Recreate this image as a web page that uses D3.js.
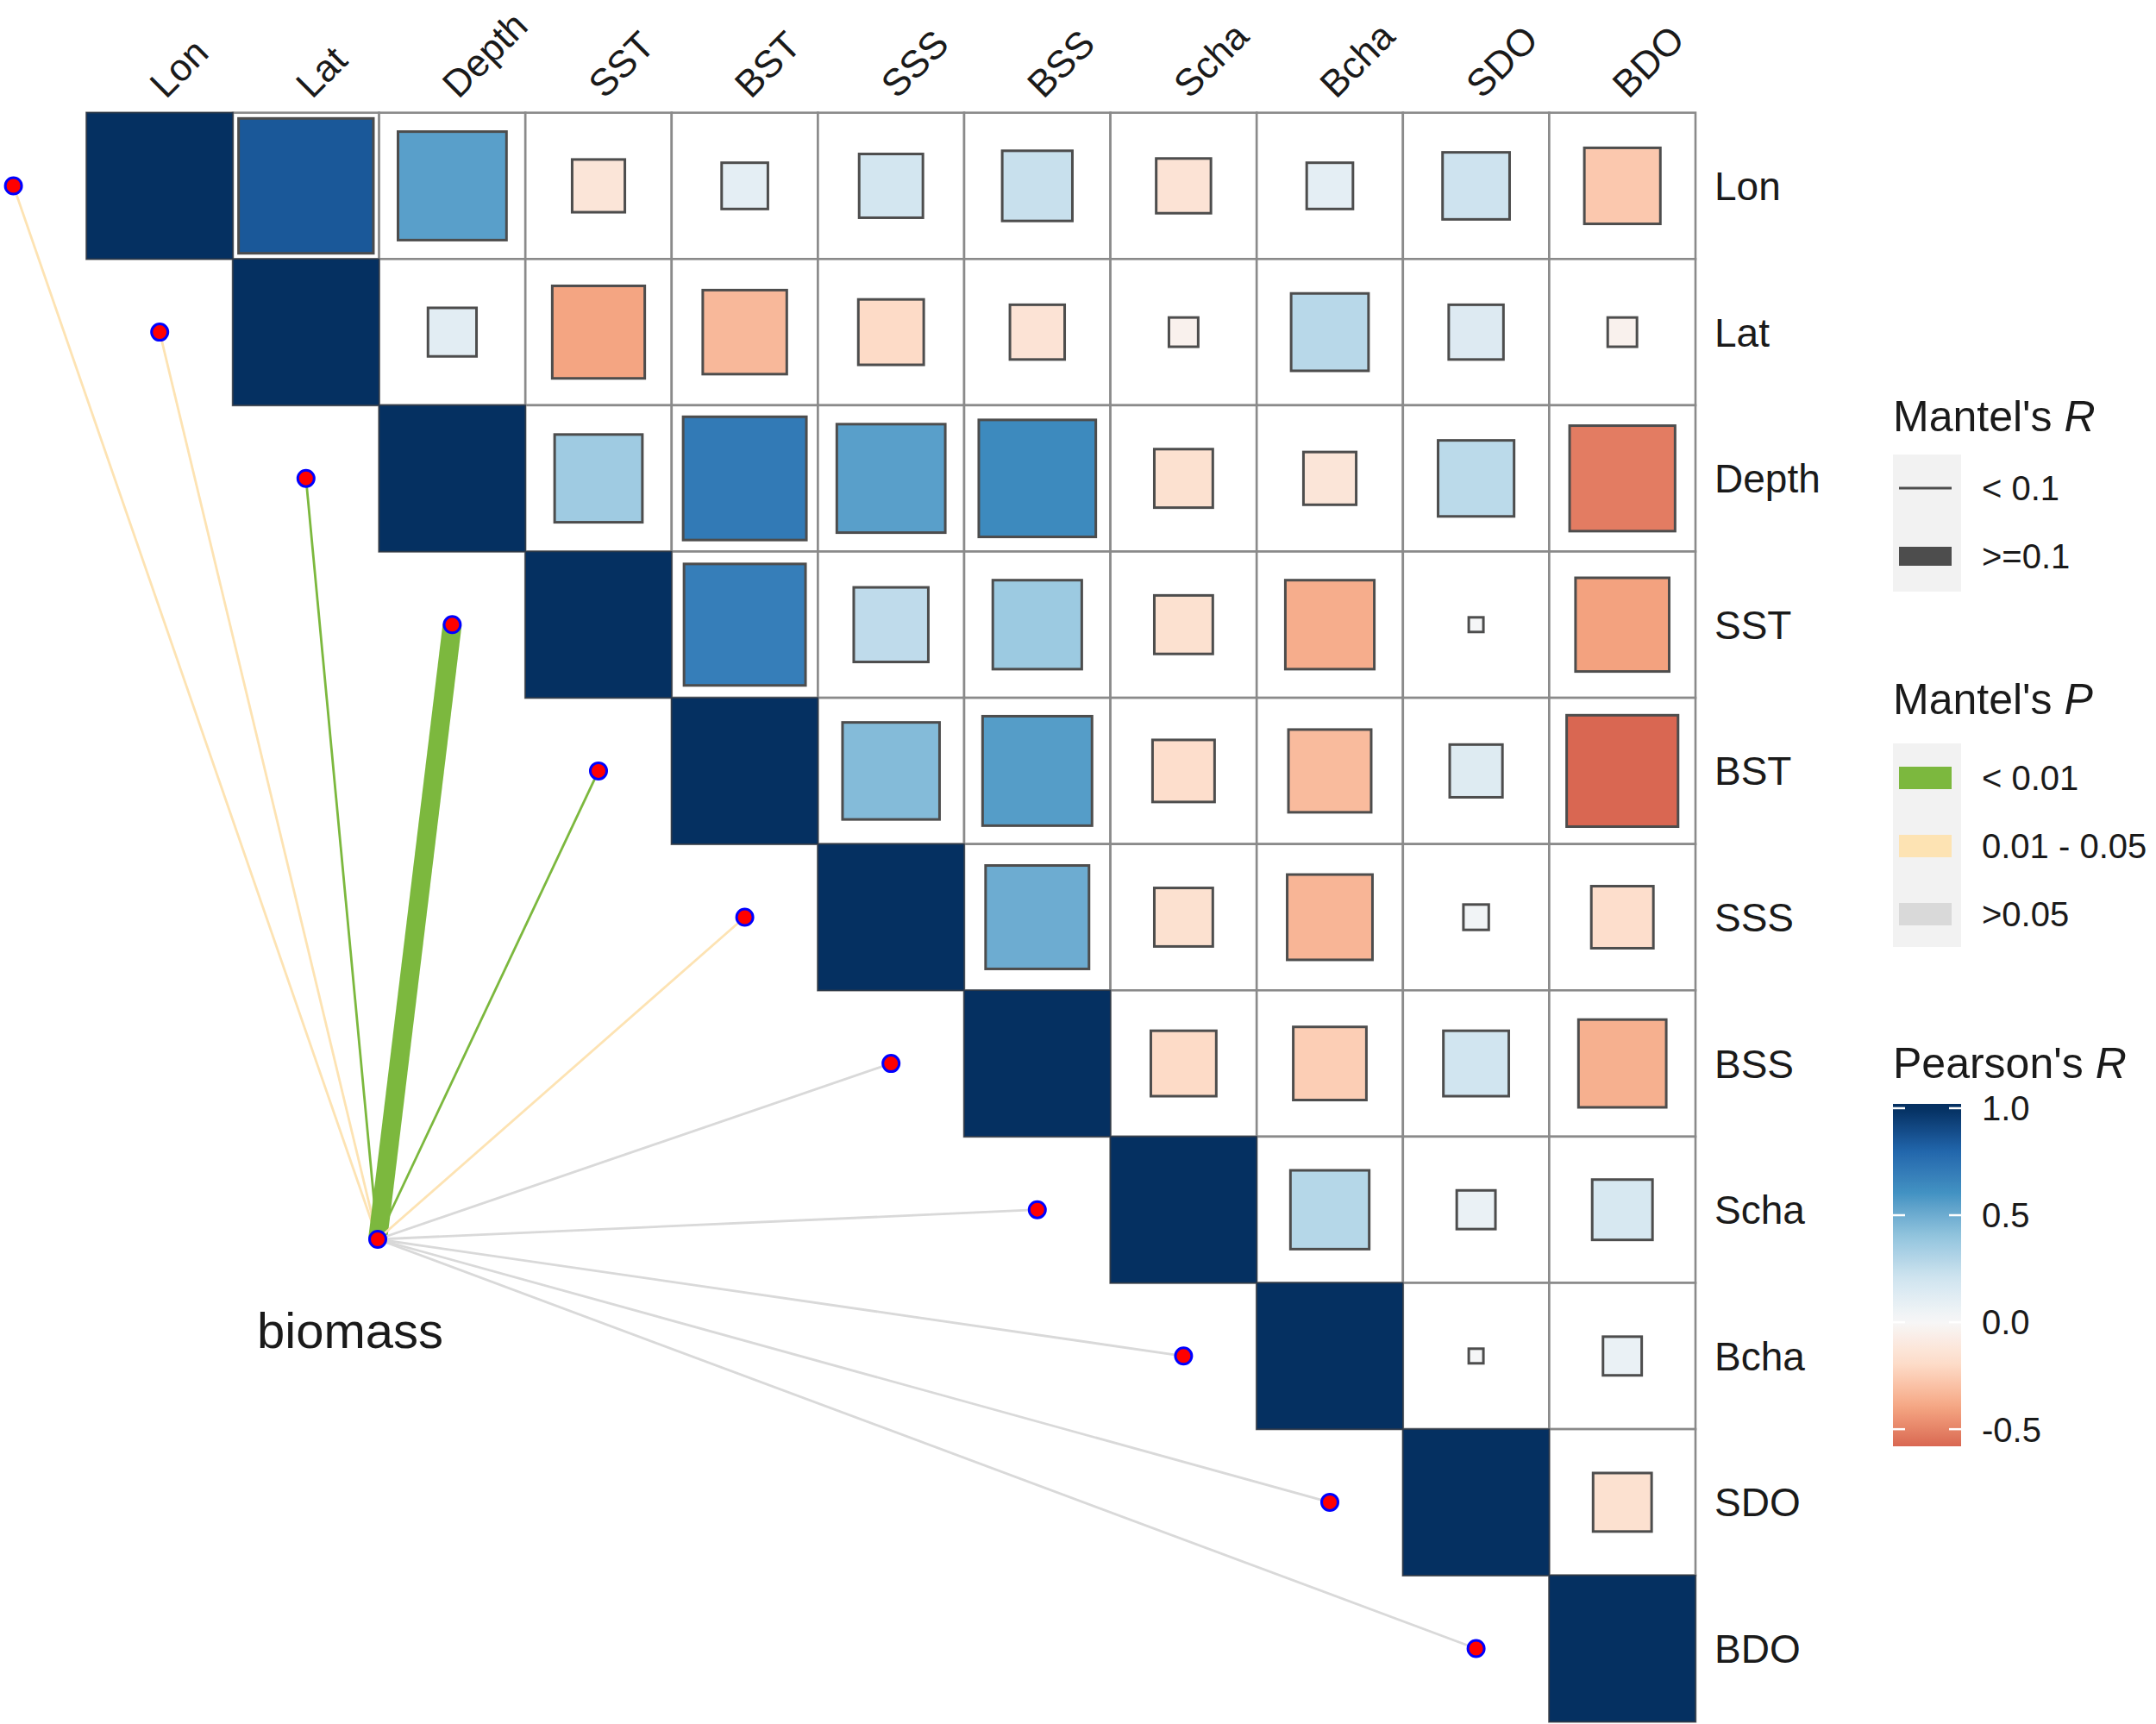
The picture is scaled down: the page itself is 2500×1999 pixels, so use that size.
<!DOCTYPE html>
<html>
<head>
<meta charset="utf-8">
<script src="https://cdn.jsdelivr.net/npm/d3@7"></script>
<style>
  body { margin: 0; background: #fff; }
</style>
</head>
<body>
<div id="chart"></div>
<script>
// ---- data ----
const vars = ["Lon", "Lat", "Depth", "SST", "BST", "SSS", "BSS", "Scha", "Bcha", "SDO", "BDO"];

// upper triangle of Pearson's r, each row starts at the diagonal
const pearsonRows = [
  [1, 0.85, 0.55, -0.13, 0.10, 0.19, 0.23, -0.14, 0.10, 0.21, -0.27],
  [1, 0.11, -0.40, -0.33, -0.20, -0.14, -0.04, 0.28, 0.14, -0.04],
  [1, 0.36, 0.71, 0.55, 0.64, -0.16, -0.13, 0.27, -0.52],
  [1, 0.69, 0.26, 0.37, -0.16, -0.37, 0.01, -0.41],
  [1, 0.44, 0.56, -0.18, -0.32, 0.13, -0.58],
  [1, 0.50, -0.16, -0.34, 0.03, -0.18],
  [1, -0.20, -0.25, 0.20, -0.36],
  [1, 0.29, 0.07, 0.17],
  [1, 0.01, 0.07],
  [1, -0.16],
  [1]
];

const envName = "biomass";
const mantelP = [
  "0.01 - 0.05", "0.01 - 0.05", "< 0.01", "< 0.01", "< 0.01", "0.01 - 0.05",
  ">0.05", ">0.05", ">0.05", ">0.05", ">0.05"
];
const mantelR = [
  "< 0.1", "< 0.1", "< 0.1", ">=0.1", "< 0.1", "< 0.1",
  "< 0.1", "< 0.1", "< 0.1", "< 0.1", "< 0.1"
];

const pLevels = ["< 0.01", "0.01 - 0.05", ">0.05"];
const pColors = ["#7cb83e", "#fde3b3", "#d9d9d9"];
const rLevels = ["< 0.1", ">=0.1"];
const pearsonTicks = [1.0, 0.5, 0.0, -0.5];
const pearsonRange = [-0.58, 1.02];

const rdbu = ["#67001f", "#b2182b", "#d6604d", "#f4a582", "#fddbc7", "#f7f7f7",
              "#d1e5f0", "#92c5de", "#4393c3", "#2166ac", "#053061"];

// ---- layout ----
const width = 2500;
const height = 1999;
const gridLeft = 100.4;
const gridTop = 130.7;
const cell = 169.6;
const nodeX = 438;
const nodeY = 1437;
const font = "'Liberation Sans', Arial, sans-serif";
const labelSize = 46;
const colLabelSize = 44;

const svg = d3.select("#chart")
  .append("svg")
  .attr("width", width)
  .attr("height", height)
  .attr("viewBox", [0, 0, width, height])
  .style("font-family", font);

const x = d3.scaleBand().domain(vars).range([gridLeft, gridLeft + vars.length * cell]);
const y = d3.scaleBand().domain(vars).range([gridTop, gridTop + vars.length * cell]);

const fill = d3.scaleLinear()
  .domain(d3.range(11).map((i) => -1 + i * 0.2))
  .range(rdbu)
  .interpolate(d3.interpolateLab);

const pColor = d3.scaleOrdinal().domain(pLevels).range(pColors);
const rWidth = d3.scaleOrdinal().domain(rLevels).range([2.8, 22]);

const cells = [];
pearsonRows.forEach((row, i) => {
  row.forEach((r, k) => {
    cells.push({ row: vars[i], col: vars[i + k], r });
  });
});

// grid
svg.append("g")
  .selectAll("rect")
  .data(cells)
  .join("rect")
  .attr("x", (d) => x(d.col))
  .attr("y", (d) => y(d.row))
  .attr("width", cell)
  .attr("height", cell)
  .attr("fill", "#fff")
  .attr("stroke", "#8a8a8a")
  .attr("stroke-width", 2.6);

// squares, side ~ sqrt(|r|)
svg.append("g")
  .selectAll("rect")
  .data(cells)
  .join("rect")
  .each(function (d) {
    const s = cell * Math.sqrt(Math.abs(d.r));
    d3.select(this)
      .attr("x", x(d.col) + (cell - s) / 2)
      .attr("y", y(d.row) + (cell - s) / 2)
      .attr("width", s)
      .attr("height", s);
  })
  .attr("fill", (d) => fill(d.r))
  .attr("stroke", (d) => (d.r === 1 ? "#2e3a4a" : "#4d4d4d"))
  .attr("stroke-width", (d) => (d.r === 1 ? 1.5 : 3));

// row labels
svg.append("g")
  .selectAll("text")
  .data(vars)
  .join("text")
  .attr("x", gridLeft + vars.length * cell + 22)
  .attr("y", (d) => y(d) + cell / 2 + labelSize * 0.36)
  .attr("font-size", labelSize)
  .attr("fill", "#1a1a1a")
  .text((d) => d);

// column labels
svg.append("g")
  .selectAll("text")
  .data(vars)
  .join("text")
  .attr("transform", (d) => `translate(${x(d) + cell / 2 + 7},${gridTop - 15}) rotate(-45)`)
  .attr("font-size", colLabelSize)
  .attr("fill", "#1a1a1a")
  .text((d) => d);

// mantel links
const links = vars.map((v, i) => ({
  v,
  p: mantelP[i],
  r: mantelR[i],
  x: x(v) + cell / 2 - cell,
  y: y(v) + cell / 2
}));

svg.append("g")
  .selectAll("line")
  .data(links)
  .join("line")
  .attr("x1", nodeX)
  .attr("y1", nodeY)
  .attr("x2", (d) => d.x)
  .attr("y2", (d) => d.y)
  .attr("stroke", (d) => pColor(d.p))
  .attr("stroke-width", (d) => rWidth(d.r));

svg.append("g")
  .selectAll("circle")
  .data([...links, { x: nodeX, y: nodeY }])
  .join("circle")
  .attr("cx", (d) => d.x)
  .attr("cy", (d) => d.y)
  .attr("r", 9.5)
  .attr("fill", "#ff0000")
  .attr("stroke", "#0000ff")
  .attr("stroke-width", 3);

svg.append("text")
  .attr("x", nodeX - 32)
  .attr("y", nodeY + 126)
  .attr("text-anchor", "middle")
  .attr("font-size", 58)
  .attr("fill", "#1a1a1a")
  .text(envName);

// ---- legends ----
const legX = 2195;
const keyW = 79;
const labX = 2298;
const keyLabelSize = 40;
const titleSize = 50;

function legendTitle(text, italicPart, yBase) {
  const t = svg.append("text")
    .attr("x", legX)
    .attr("y", yBase)
    .attr("font-size", titleSize)
    .attr("fill", "#1a1a1a");
  t.append("tspan").text(text);
  t.append("tspan").attr("font-style", "italic").text(italicPart);
}

// Mantel's R
legendTitle("Mantel's ", "R", 500);
const rKeyY = [566, 645];
svg.append("rect")
  .attr("x", legX).attr("y", 527)
  .attr("width", keyW).attr("height", 159)
  .attr("fill", "#f2f2f2");
rLevels.forEach((lvl, i) => {
  svg.append("line")
    .attr("x1", legX + 7).attr("x2", legX + keyW - 11)
    .attr("y1", rKeyY[i]).attr("y2", rKeyY[i])
    .attr("stroke", "#4d4d4d")
    .attr("stroke-width", rWidth(lvl));
  svg.append("text")
    .attr("x", labX).attr("y", rKeyY[i] + keyLabelSize * 0.36)
    .attr("font-size", keyLabelSize).attr("fill", "#1a1a1a")
    .text(lvl);
});

// Mantel's P
legendTitle("Mantel's ", "P", 828);
const pKeyY = [902, 981, 1060];
svg.append("rect")
  .attr("x", legX).attr("y", 862)
  .attr("width", keyW).attr("height", 236)
  .attr("fill", "#f2f2f2");
pLevels.forEach((lvl, i) => {
  svg.append("rect")
    .attr("x", legX + 7).attr("width", keyW - 18)
    .attr("y", pKeyY[i] - 13).attr("height", 26)
    .attr("fill", pColor(lvl));
  svg.append("text")
    .attr("x", labX).attr("y", pKeyY[i] + keyLabelSize * 0.36)
    .attr("font-size", keyLabelSize).attr("fill", "#1a1a1a")
    .text(lvl);
});

// Pearson's R colorbar
legendTitle("Pearson's ", "R", 1250);
const barTop = 1280;
const barBottom = 1677;
const barScale = d3.scaleLinear().domain(pearsonRange).range([barBottom, barTop]);

const defs = svg.append("defs");
const grad = defs.append("linearGradient")
  .attr("id", "pearson-grad")
  .attr("x1", 0).attr("y1", 1).attr("x2", 0).attr("y2", 0);
d3.range(0, 1.0001, 0.02).forEach((t) => {
  const v = pearsonRange[0] + t * (pearsonRange[1] - pearsonRange[0]);
  grad.append("stop")
    .attr("offset", t)
    .attr("stop-color", fill(Math.min(1, v)));
});
svg.append("rect")
  .attr("x", legX).attr("y", barTop)
  .attr("width", keyW).attr("height", barBottom - barTop)
  .attr("fill", "url(#pearson-grad)");

const tickFormat = (t) => d3.format(".1f")(t).replace("\u2212", "-");
const bar = svg.append("g");
pearsonTicks.forEach((t) => {
  const ty = barScale(t);
  [[legX, legX + 14], [legX + keyW - 14, legX + keyW]].forEach(([a, b]) => {
    bar.append("line")
      .attr("x1", a).attr("x2", b)
      .attr("y1", ty).attr("y2", ty)
      .attr("stroke", "#fff")
      .attr("stroke-width", 2.5);
  });
  bar.append("text")
    .attr("x", labX).attr("y", ty + keyLabelSize * 0.36)
    .attr("font-size", keyLabelSize).attr("fill", "#1a1a1a")
    .text(tickFormat(t));
});
</script>
</body>
</html>
